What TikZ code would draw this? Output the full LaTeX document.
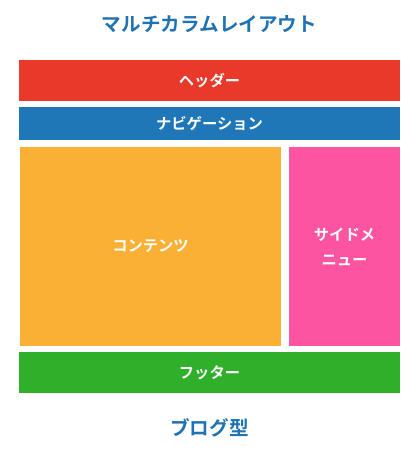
\documentclass[tikz,border=0pt]{standalone}
\usepackage{fontspec}
\newfontfamily\cjk{Noto Sans CJK JP Bold}
\newfontfamily\cjkb{Noto Sans CJK JP Bold}
\definecolor{cred}{HTML}{E8392A}
\definecolor{cblue}{HTML}{1F77B8}
\definecolor{corange}{HTML}{F9B035}
\definecolor{cpink}{HTML}{FC54A0}
\definecolor{cgreen}{HTML}{30AF2B}
\definecolor{ctitle}{HTML}{1F72B3}
\begin{document}
\begin{tikzpicture}[x=1pt,y=-1pt,
  lbl/.style={text=white,font=\cjk\fontsize{15.3}{25}\selectfont,align=center},
  ttl/.style={text=ctitle,font=\cjkb\fontsize{19.6}{22}\selectfont}]
\useasboundingbox (0,0) rectangle (417,449);
\fill[cred] (19,60) rectangle (400,101);
\node[lbl] (hdr) at (209.5,80.5) {ヘッダー};
\fill[cblue] (19,107) rectangle (400,140);
\node[lbl] (nav) at (209.5,123.5) {ナビゲーション};
\fill[corange] (20,147) rectangle (281,346);
\node[lbl] (cnt) at (150.5,246.5) {コンテンツ};
\fill[cpink] (289,147) rectangle (400,346);
\node[lbl] (side) at (344.5,246.5) {サイドメ\\ニュー};
\fill[cgreen] (19,352) rectangle (400,393);
\node[lbl] (ftr) at (209.5,372.5) {フッター};
\node[ttl] (t1) at (209.5,24) {マルチカラムレイアウト};
\node[ttl] (t2) at (209.5,428) {ブログ型};
\end{tikzpicture}
\end{document}
